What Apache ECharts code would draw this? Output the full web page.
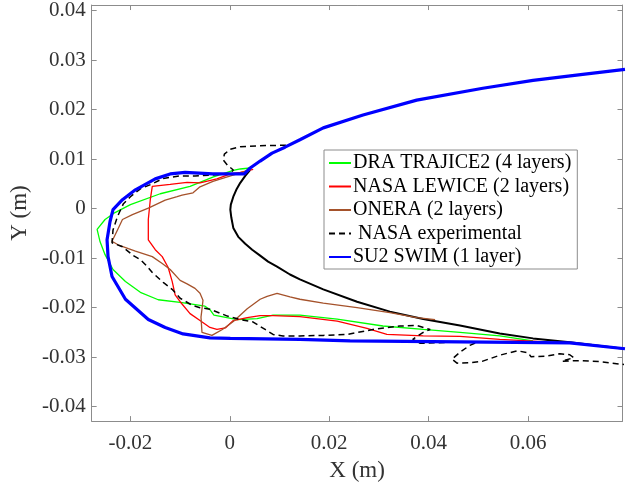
<!DOCTYPE html>
<html>
<head>
<meta charset="utf-8">
<script src="https://cdn.jsdelivr.net/npm/echarts@6/dist/echarts.min.js"></script>
<style>html,body{margin:0;padding:0;background:#fff;}#c{width:626px;height:487px;}</style>
</head>
<body>
<div id="c"></div>
<script>
// ---- data (metres) ----
const xTicks = [-0.02, 0, 0.02, 0.04, 0.06];
const yTicks = [-0.04, -0.03, -0.02, -0.01, 0, 0.01, 0.02, 0.03, 0.04];

const airfoilX = [0.0041,0.0031,0.0021,0.0013,0.0007,0.0002,0.0001,0.0003,0.0007,0.0017,0.0031,0.0045,0.0061,0.0077,0.0095,0.0121,0.0141,0.0188,0.0256,0.0322,0.0389,0.0463,0.0543,0.0610,0.0684,0.0795];
const airfoilY = [0.0078,0.0066,0.0052,0.0038,0.0024,0.0008,-0.0002,-0.0018,-0.0039,-0.0057,-0.0071,-0.0083,-0.0095,-0.0107,-0.0117,-0.0133,-0.0143,-0.0163,-0.0188,-0.0208,-0.0223,-0.0236,-0.0252,-0.0262,-0.0270,-0.0283];

const draX = [0.0041,0.0021,0.0007,-0.0033,-0.0080,-0.0140,-0.0200,-0.0231,-0.0251,-0.0267,-0.0261,-0.0251,-0.0235,-0.0210,-0.0180,-0.0144,-0.0096,-0.0050,-0.0040,-0.0032,0.0015,0.0055,0.0087,0.0141,0.0216,0.0308,0.0389,0.0463,0.0543,0.0610];
const draY = [0.0082,0.0080,0.0077,0.0064,0.0045,0.0030,0.0008,-0.0008,-0.0022,-0.0042,-0.0067,-0.0093,-0.0123,-0.0147,-0.0169,-0.0184,-0.0190,-0.0197,-0.0204,-0.0215,-0.0224,-0.0222,-0.0215,-0.0215,-0.0223,-0.0237,-0.0244,-0.0250,-0.0257,-0.0267];

const lewiceX = [0.0047,0.0021,0.0001,-0.0026,-0.0060,-0.0086,-0.0120,-0.0156,-0.0160,-0.0164,-0.0164,-0.0150,-0.0136,-0.0124,-0.0116,-0.0110,-0.0100,-0.0080,-0.0060,-0.0040,-0.0026,-0.0009,0.0007,0.0035,0.0061,0.0087,0.0141,0.0216,0.0276,0.0316,0.0389,0.0463,0.0543,0.0638];
const lewiceY = [0.0079,0.0073,0.0070,0.0060,0.0052,0.0053,0.0049,0.0045,0.0018,-0.0022,-0.0063,-0.0083,-0.0097,-0.0119,-0.0147,-0.0174,-0.0188,-0.0212,-0.0226,-0.0240,-0.0244,-0.0241,-0.0226,-0.0220,-0.0216,-0.0216,-0.0218,-0.0227,-0.0242,-0.0254,-0.0257,-0.0258,-0.0264,-0.0269];

const oneraX = [0.0041,0.0021,-0.0005,-0.0034,-0.0060,-0.0074,-0.0096,-0.0106,-0.0130,-0.0164,-0.0196,-0.0216,-0.0226,-0.0237,-0.0225,-0.0204,-0.0190,-0.0156,-0.0136,-0.0120,-0.0100,-0.0086,-0.0070,-0.0060,-0.0054,-0.0056,-0.0058,-0.0056,-0.0036,-0.0015,0.0007,0.0035,0.0061,0.0075,0.0095,0.0121,0.0141,0.0188,0.0256,0.0322,0.0376,0.0413];
const oneraY = [0.0078,0.0072,0.0064,0.0055,0.0044,0.0032,0.0027,0.0024,0.0017,0.0001,-0.0012,-0.0022,-0.0043,-0.0066,-0.0073,-0.0081,-0.0086,-0.0097,-0.0111,-0.0123,-0.0145,-0.0152,-0.0161,-0.0171,-0.0185,-0.0203,-0.0219,-0.0250,-0.0256,-0.0244,-0.0228,-0.0202,-0.0183,-0.0177,-0.0171,-0.0178,-0.0183,-0.0191,-0.0200,-0.0210,-0.0220,-0.0224];

const expX = [0.0113,0.0061,0.0021,0.0001,-0.0011,-0.0013,-0.0005,0.0007,0.0001,-0.0034,-0.0070,-0.0100,-0.0134,-0.0156,-0.0180,-0.0200,-0.0214,-0.0226,-0.0235,-0.0237,-0.0216,-0.0194,-0.0180,-0.0166,-0.0156,-0.0134,-0.0116,-0.0100,-0.0076,-0.0060,-0.0040,-0.0005,0.0021,0.0047,0.0071,0.0087,0.0107,0.0141,0.0188,0.0236,0.0288,0.0342,0.0376,0.0403,0.0389,0.0368,0.0383,0.0437,0.0497,0.0483,0.0463,0.0447,0.0457,0.0483,0.0509,0.0543,0.0578,0.0600,0.0606,0.0634,0.0664,0.0684,0.0692,0.0668,0.0704,0.0744,0.0795];
const expY = [0.0128,0.0127,0.0125,0.0120,0.0110,0.0098,0.0088,0.0078,0.0071,0.0068,0.0066,0.0066,0.0061,0.0050,0.0040,0.0024,0.0010,-0.0016,-0.0043,-0.0069,-0.0077,-0.0095,-0.0103,-0.0117,-0.0129,-0.0149,-0.0163,-0.0181,-0.0195,-0.0200,-0.0203,-0.0217,-0.0224,-0.0229,-0.0244,-0.0254,-0.0257,-0.0257,-0.0256,-0.0254,-0.0244,-0.0237,-0.0236,-0.0244,-0.0250,-0.0264,-0.0272,-0.0270,-0.0270,-0.0276,-0.0290,-0.0304,-0.0312,-0.0311,-0.0308,-0.0296,-0.0287,-0.0291,-0.0299,-0.0298,-0.0293,-0.0295,-0.0301,-0.0308,-0.0307,-0.0309,-0.0315];

const su2X = [0.0795,0.0710,0.0610,0.0509,0.0376,0.0268,0.0188,0.0141,0.0111,0.0085,0.0061,0.0041,0.0029,-0.0034,-0.0090,-0.0120,-0.0150,-0.0190,-0.0216,-0.0235,-0.0241,-0.0247,-0.0245,-0.0237,-0.0210,-0.0164,-0.0130,-0.0094,-0.0040,0.0001,0.0141,0.0242,0.0463,0.0684,0.0795];
const su2Y = [0.0281,0.0271,0.0259,0.0243,0.0219,0.0189,0.0163,0.0139,0.0124,0.0112,0.0096,0.0082,0.0070,0.0070,0.0073,0.0070,0.0060,0.0038,0.0018,-0.0002,-0.0026,-0.0063,-0.0097,-0.0137,-0.0183,-0.0224,-0.0240,-0.0253,-0.0261,-0.0262,-0.0264,-0.0267,-0.0269,-0.0271,-0.0283];

const seriesNames = ['DRA TRAJICE2 (4 layers)', 'NASA LEWICE (2 layers)', 'ONERA (2 layers)', 'NASA experimental', 'SU2 SWIM (1 layer)'];

// ---- build ----
function zip(xs, ys) { const n = Math.min(xs.length, ys.length); const out = []; for (let i = 0; i < n; i++) out.push([xs[i], ys[i]]); return out; }

const FONT = 'Liberation Serif';
const AXC = '#8c8c8c';
const XMIN = -0.0278, XMAX = 0.079, YMIN = -0.0429, YMAX = 0.0411;

function lineSeries(name, data, color, width, type) {
  return {
    name: name, type: 'line', data: data, showSymbol: false, symbol: 'circle', symbolSize: 0,
    smooth: false, animation: false, clip: true,
    lineStyle: { color: color, width: width, type: type || 'solid' },
    itemStyle: { color: color },
    emphasis: { disabled: true }
  };
}

const chart = echarts.init(document.getElementById('c'), null, { renderer: 'canvas' });
const axisBase = {
  type: 'value', splitLine: { show: false },
  axisLine: { show: true, onZero: false, lineStyle: { color: AXC, width: 1 } },
  axisTick: { show: true, inside: true, length: 5, lineStyle: { color: AXC } }
};
chart.setOption({
  animation: false,
  backgroundColor: '#fff',
  grid: { left: 91, top: 4.7, width: 531.5, height: 417.6, containLabel: false },
  xAxis: [
    Object.assign({}, axisBase, {
      min: XMIN, max: XMAX, position: 'bottom',
      name: 'X (m)', nameLocation: 'middle', nameGap: 33,
      nameTextStyle: { fontFamily: FONT, fontSize: 23, color: '#333' },
      axisTick: { show: true, inside: true, length: 5, lineStyle: { color: AXC }, customValues: xTicks },
      axisLabel: { show: true, customValues: xTicks, margin: 12, fontFamily: FONT, fontSize: 21, color: '#333',
        formatter: v => String(v) }
    }),
    Object.assign({}, axisBase, {
      min: XMIN, max: XMAX, position: 'top',
      axisTick: { show: true, inside: true, length: 5, lineStyle: { color: AXC }, customValues: xTicks },
      axisLabel: { show: false }
    })
  ],
  yAxis: [
    Object.assign({}, axisBase, {
      min: YMIN, max: YMAX, position: 'left',
      name: 'Y (m)', nameLocation: 'middle', nameGap: 55, nameRotate: 90,
      nameTextStyle: { fontFamily: FONT, fontSize: 23, color: '#333' },
      axisTick: { show: true, inside: true, length: 5, lineStyle: { color: AXC }, customValues: yTicks },
      axisLabel: { show: true, customValues: yTicks, margin: 6, fontFamily: FONT, fontSize: 21, color: '#333',
        formatter: v => String(v) }
    }),
    Object.assign({}, axisBase, {
      min: YMIN, max: YMAX, position: 'right',
      axisTick: { show: true, inside: true, length: 5, lineStyle: { color: AXC }, customValues: yTicks },
      axisLabel: { show: false }
    })
  ],
  legend: {
    data: seriesNames,
    orient: 'vertical', left: 324, top: 150,
    backgroundColor: '#fff', borderColor: '#8c8c8c', borderWidth: 1, borderRadius: 0,
    padding: [3, 6, 2, 4], itemGap: 3.5, itemWidth: 22, itemHeight: 14,
    selectedMode: false,
    itemStyle: { opacity: 0 },
    formatter: n => (n === 'NASA experimental' ? ' ' + n : n),
    textStyle: { fontFamily: FONT, fontSize: 20, color: '#000', lineHeight: 20, padding: [0, 0, 0, -3] }
  },
  series: [
    lineSeries('Airfoil', zip(airfoilX, airfoilY), '#000000', 2),
    lineSeries(seriesNames[0], zip(draX, draY), '#00ff00', 1.3),
    lineSeries(seriesNames[1], zip(lewiceX, lewiceY), '#ff0000', 1.3),
    lineSeries(seriesNames[2], zip(oneraX, oneraY), '#a5522b', 1.3),
    lineSeries(seriesNames[3], zip(expX, expY), '#000000', 1.5, [6, 4]),
    lineSeries(seriesNames[4], zip(su2X, su2Y), '#0000ff', 3.2)
  ]
});
</script>
</body>
</html>
